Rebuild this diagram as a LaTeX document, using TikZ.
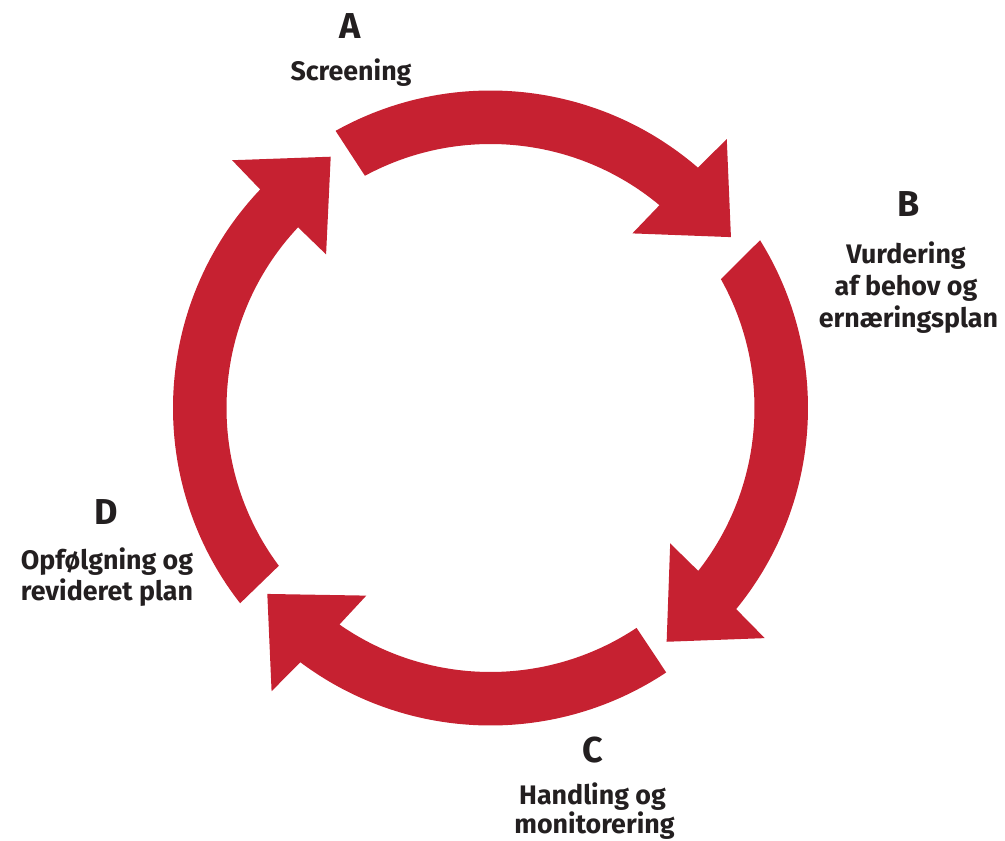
\documentclass[tikz,border=0pt]{standalone}
\usepackage{fontspec}
\setmainfont{Fira Sans}
\definecolor{cyclered}{RGB}{198,33,49}
\definecolor{labelgray}{RGB}{35,31,32}
\tikzset{
  letterlbl/.style={font=\fontsize{36}{36}\selectfont\bfseries, text=labelgray, anchor=base, inner sep=0pt},
  captionlbl/.style={font=\fontsize{26.8}{31}\selectfont\bfseries, text=labelgray, anchor=base, inner sep=0pt},
  arrowfill/.style={fill=cyclered, draw=none}
}
% #1 tail outer angle, #2 tail inner angle, #3 notch outer, #4 notch inner,
% #5 barb outer, #6 barb inner, #7 tip angle, #8 tip radius
\newcommand\cyclearrow[8]{%
  \path[arrowfill] (#1:317.5) arc[start angle=#1, end angle=#3, radius=317.5]
    -- (#5:358) -- (#7:#8) -- (#6:225) -- (#4:264)
    arc[start angle=#4, end angle=#2, radius=264] -- cycle;}
\begin{document}
\begin{tikzpicture}[x=1pt,y=1pt]
\useasboundingbox (-490.5,-433) rectangle (514.5,408);
% arrows
\cyclearrow{119.2}{118.4}{49.2}{50.2}{48.7}{50.9}{35.4}{295}
\cyclearrow{31.9}{29.2}{-39.3}{-38.1}{-40.0}{-37.0}{-53.0}{292.7}
\cyclearrow{-56.4}{-56.4}{-126.8}{-124.9}{-127.7}{-123.5}{-140.2}{290.5}
\cyclearrow{217.95}{216.7}{136.5}{136.8}{136.2}{136.95}{122.45}{297.8}
% labels
\node[letterlbl] (la) at (-140,369) {A};
\node[captionlbl] (la1) at (-139.5,327) {Screening};
\node[letterlbl] (lb) at (418.5,191) {B};
\node[captionlbl] (lb1) at (415.5,144.7) {Vurdering};
\node[captionlbl] (lb2) at (415.5,112.5) {af behov og};
\node[captionlbl] (lb3) at (418,81) {ernæringsplan};
\node[letterlbl] (lc) at (102,-354) {C};
\node[captionlbl] (lc1) at (102,-396) {Handling og};
\node[captionlbl] (lc2) at (104,-425) {monitorering};
\node[letterlbl] (ld) at (-384.5,-116.3) {D};
\node[captionlbl] (ld1) at (-383.5,-161) {Opfølgning og};
\node[captionlbl] (ld2) at (-383.5,-192) {revideret plan};
\end{tikzpicture}
\end{document}
